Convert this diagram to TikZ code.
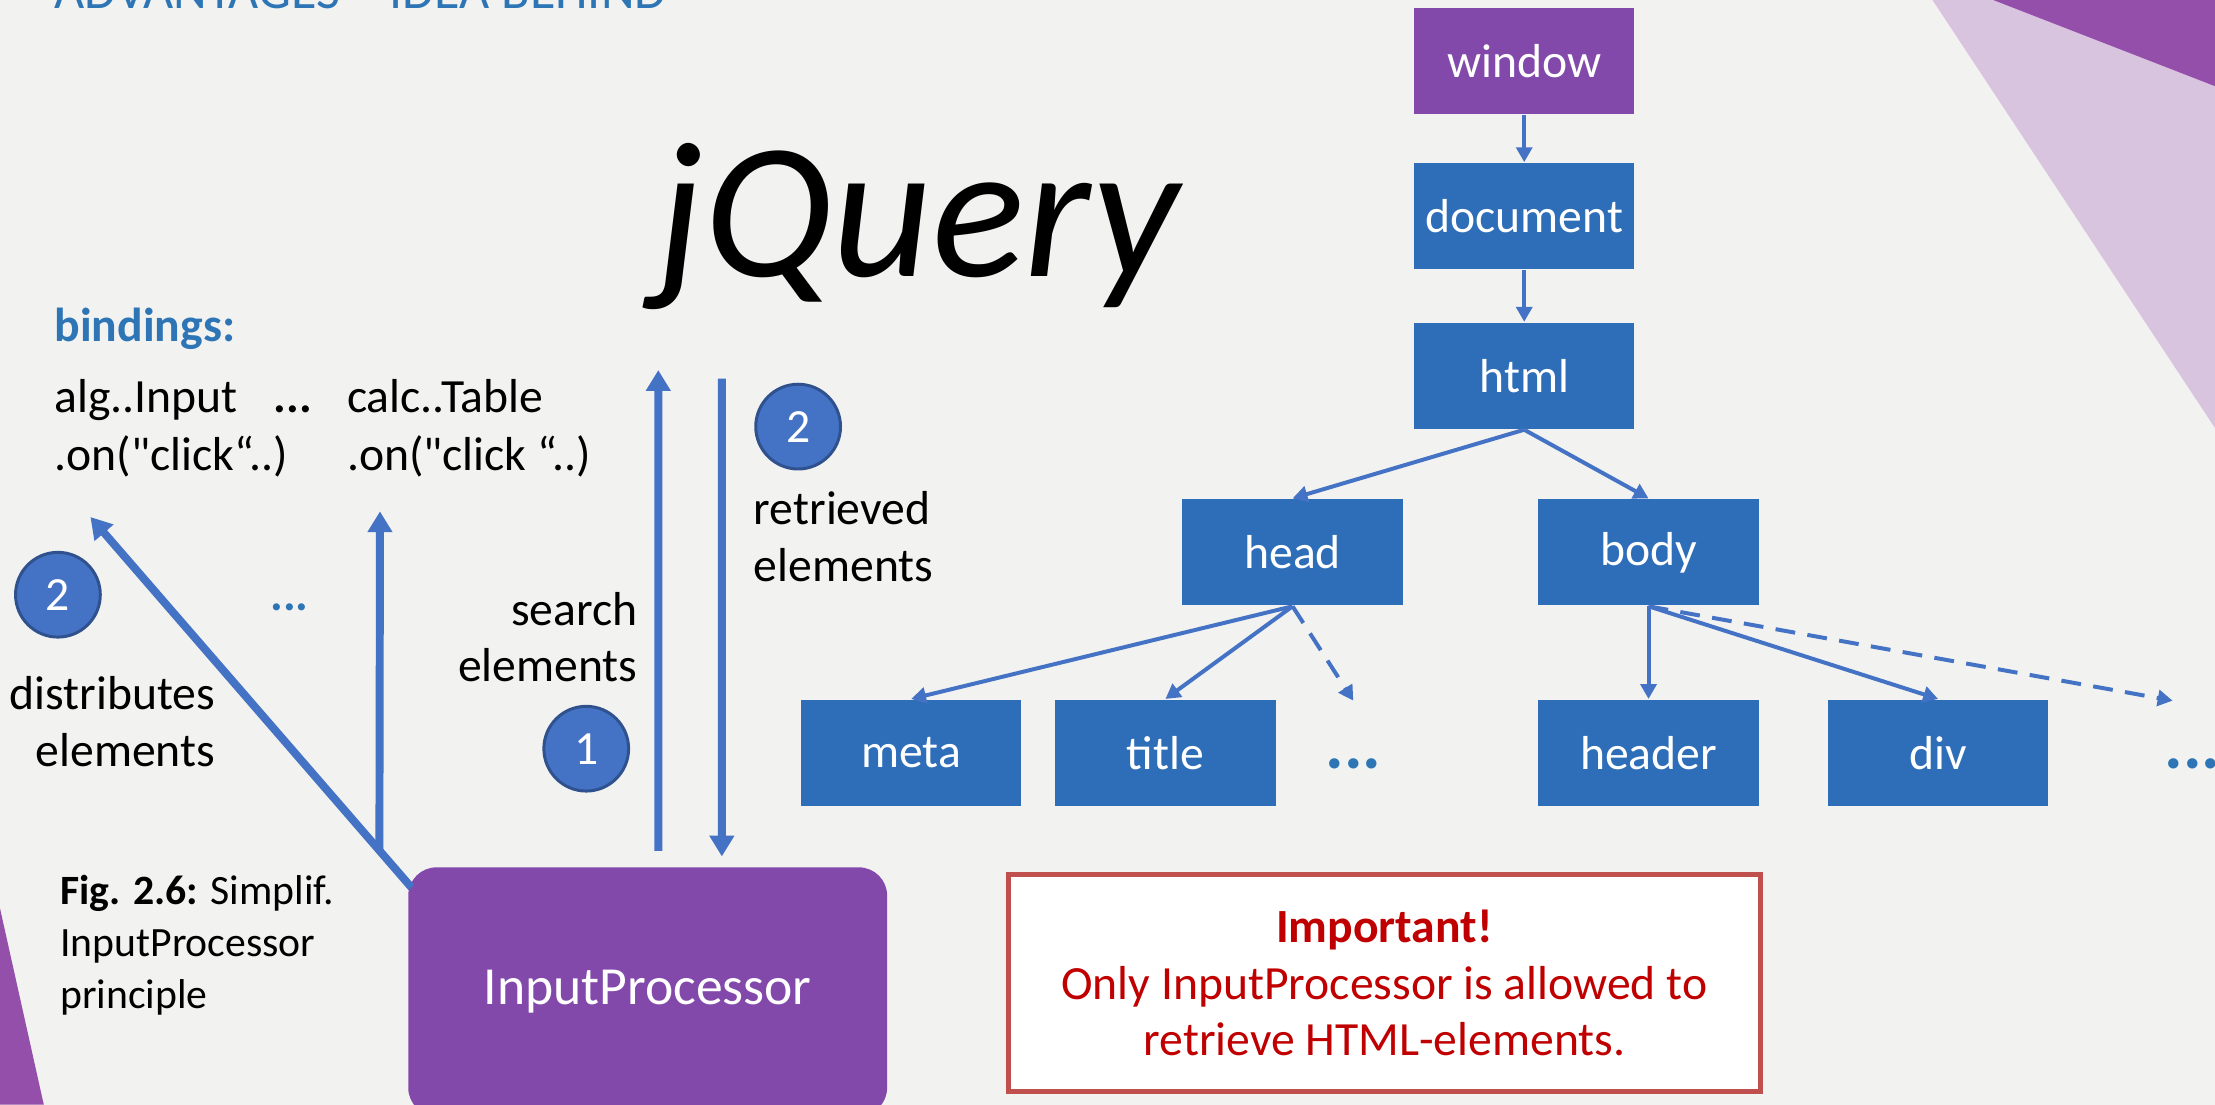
\documentclass[tikz,border=0pt]{standalone}
\usepackage{fontspec}
\setmainfont{Carlito}
\usetikzlibrary{arrows.meta,positioning,calc}
\definecolor{bggrey}{HTML}{F2F2F0}
\definecolor{tagblue}{HTML}{2E6EB9}
\definecolor{arrowblue}{HTML}{4472C4}
\definecolor{circleedge}{HTML}{2F528F}
\definecolor{procpurple}{HTML}{8249AB}
\definecolor{deeppurple}{HTML}{944FAB}
\definecolor{lilac}{HTML}{D8C4DE}
\definecolor{titleblue}{HTML}{2E75B6}
\definecolor{warnred}{HTML}{C0504D}
\definecolor{warntext}{HTML}{C00000}
\newcommand{\bodysize}{\fontsize{9.6pt}{11.4pt}\selectfont}
\newcommand{\capsize}{\fontsize{8.4pt}{10.5pt}\selectfont}
\newcommand{\procsize}{\fontsize{10.8pt}{13pt}\selectfont}
\newcommand{\headsize}{\fontsize{10.5pt}{12pt}\selectfont}
\newcommand{\jqsize}{\fontsize{39pt}{45pt}\selectfont}
\newcommand{\straightq}{\XeTeXglyph\XeTeXcharglyph"0022\relax}
\tikzset{
  >=Latex,
  txt/.style={font=\bodysize, inner sep=0pt},
  bindtxt/.style={txt, anchor=base west},
  tagbox/.style={fill=tagblue, text=white, minimum width=1.56cm,
    minimum height=0.75cm, inner sep=0pt, font=\bodysize},
  tagarrow/.style={arrowblue, line width=0.8pt,
    -{Triangle[length=3pt,width=3.2pt]}},
  moretag/.style={tagarrow, dash pattern=on 4pt off 2.5pt},
  tagdots/.style={inner sep=0pt, text=titleblue,
    font=\fontsize{14pt}{14pt}\selectfont\bfseries},
  flowarrow/.style={arrowblue, line width=1.6pt,
    -{Triangle[length=4.2pt,width=4.8pt]}},
  stepdot/.style={circle, fill=arrowblue, draw=circleedge, line width=0.6pt,
    text=white, minimum size=0.6cm, inner sep=0pt, font=\bodysize},
  procbox/.style={rounded corners=0.2cm, fill=procpurple, text=white,
    minimum width=3.39cm, minimum height=1.76cm, font=\procsize},
  notebox/.style={draw=warnred, line width=1pt, fill=white, text=warntext,
    align=center, minimum width=5.32cm, minimum height=1.54cm, font=\bodysize}
}

\begin{document}
\begin{tikzpicture}[x=0.1mm, y=-0.1mm]
\useasboundingbox (0,0) rectangle (1568,782);
\clip (0,0) rectangle (1568,782);
\fill[bggrey] (0,0) rectangle (1568,782);
\fill[lilac] (1368,0) -- (1568,0) -- (1568,303) -- cycle;
\fill[deeppurple] (1411,0) -- (1568,0) -- (1568,61) -- cycle;
\fill[deeppurple] (0,643) -- (31,782) -- (0,782) -- cycle;

\node[anchor=base west, inner sep=0pt, text=titleblue, font=\headsize] (heading) at (38,6) {ADVANTAGES – IDEA BEHIND};
\node[anchor=base, inner sep=0pt, font=\jqsize\itshape] (jq) at (650,196) {jQuery};

\node[tagbox, fill=procpurple] (window) at (1079,43) {window};
\foreach \n/\x/\y in {document/1079/153, html/1079/266, head/915/391,
  body/1167/391, meta/645/533, title/825/533, header/1167/533, div/1372/533}
  \node[tagbox] (\n) at (\x,\y) {\n};
\foreach \a/\b in {window/document, document/html, html/head, html/body,
  head/meta, head/title, body/header, body/div}
  \draw[tagarrow] (\a.south) -- (\b.north);
\coordinate (headmore) at (958,496);
\coordinate (bodymore) at (1538,496);
\draw[moretag] (head.south) -- (headmore);
\draw[moretag] (body.south) -- (bodymore);
\node[tagdots] (headdots) at (958,541) {...};
\node[tagdots] (bodydots) at (1552,541) {...};

\node[bindtxt, text=titleblue, font=\bodysize\bfseries] (bindings) at (38,242) {bindings:};
\node[bindtxt] (alginput) at (38,292) {alg..Input};
\node[bindtxt] (algclick) at (38,333) {.on(\straightq click“..)};
\node[bindtxt, font=\bodysize\bfseries] (bindots) at (193,292) {...};
\node[bindtxt] (calctable) at (245,292) {calc..Table};
\node[bindtxt] (calcclick) at (245,333) {.on(\straightq click “..)};

\node[procbox] (inproc) at (458.5,702) {InputProcessor};
\coordinate (fork) at ($(inproc.north west)+(3,15)$);
\coordinate (algtip) at (64,366);
\coordinate (forkup) at ($(fork)!0.1!(algtip)$);
\coordinate (calctip) at (269,362);
\coordinate (askfoot) at ($(inproc.north)+(7.5,-11)$);
\coordinate (asktip) at (466,262);
\coordinate (getstart) at (511,268);
\coordinate (gettip) at ($(inproc.north)+(52.5,-7)$);
\draw[flowarrow] (fork) -- (algtip);
\draw[flowarrow] (forkup) -- (calctip);
\draw[flowarrow] (askfoot) -- (asktip);
\draw[flowarrow] (getstart) -- (gettip);

\node[stepdot] (twoleft) at (41,421) {2};
\node[stepdot] (tworight) at (565,302) {2};
\node[stepdot] (one) at (415,530) {1};
\node[txt, text=titleblue, font=\bodysize\bfseries] (morebind) at (205,430) {...};
\node[txt, anchor=east, align=right] (distrib) at (153,511) {distributes\\elements};
\node[txt, anchor=east, align=right] (search) at (452,451) {search\\elements};
\node[txt, anchor=west, align=left] (retrieved) at (533,380) {retrieved\\elements};

\node[txt, font=\capsize, anchor=north west, align=left] (caption) at (42,619) {\textbf{Fig. 2.6:} Simplif.\\InputProcessor\\principle};
\node[notebox] (note) at (980,696) {\textbf{Important!}\\Only InputProcessor is allowed to\\retrieve HTML-elements.};
\end{tikzpicture}
\end{document}
